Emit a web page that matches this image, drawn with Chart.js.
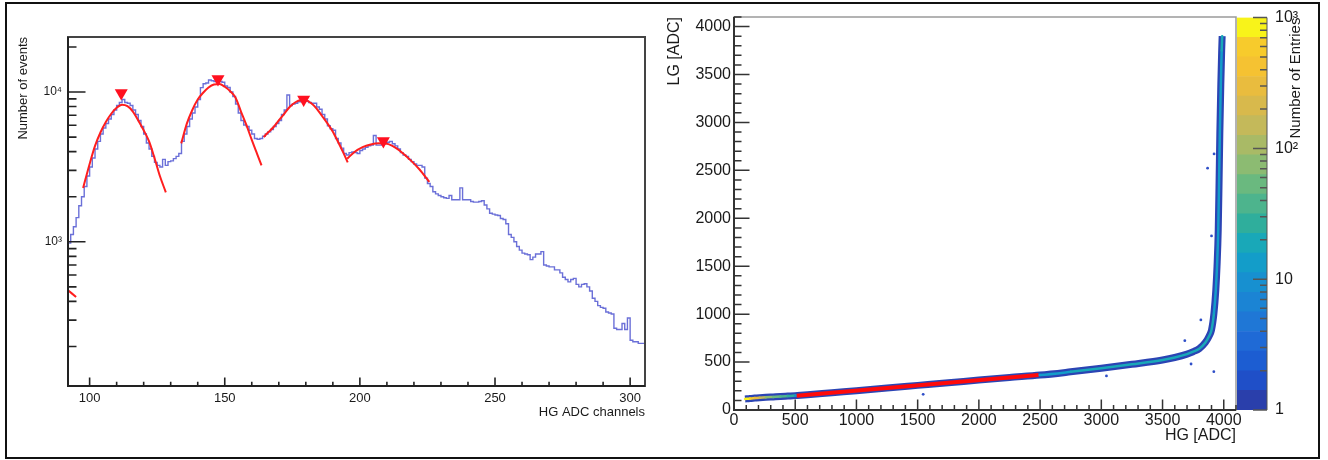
<!DOCTYPE html>
<html>
<head>
<meta charset="utf-8">
<script src="https://cdn.jsdelivr.net/npm/chart.js@4.4.1/dist/chart.umd.min.js"></script>
<style>
  body { margin: 0; background: #fff; }
  #wrap { position: relative; width: 1328px; height: 460px; background: #fff; overflow: hidden; }
  canvas { position: absolute; top: 0; }
  #frame { position: absolute; left: 5px; top: 2px; width: 1315px; height: 457px; border: 2px solid #111; box-sizing: border-box; }
</style>
</head>
<body>
<div id="wrap">
  <canvas id="histChart" width="660" height="460" style="left:0"></canvas>
  <canvas id="lgHgChart" width="600" height="460" style="left:650px"></canvas>
  <canvas id="paletteChart" width="91" height="460" style="left:1237px"></canvas>
  <div id="frame"></div>
</div>
<script>
// ---- left panel: HG spectrum, one bin per ADC channel starting at 92
var histStart = 92;
var histCounts = [
  980, 1120, 1260, 1450, 1740, 2000, 2340, 2750, 3160, 3630,      // 92-101
  4170, 4680, 5250, 5750, 6170, 6610, 7080, 7590, 8130, 8510,     // 102-111
  8910, 8510, 8410, 8130, 7590, 7080, 6460, 5890, 5250, 4570,     // 112-121
  4170, 3720, 3390, 3240, 3160, 3550, 3240, 3430, 3470, 3590,     // 122-131
  3720, 3890, 4680, 5250, 5890, 6610, 7240, 7940, 8910, 10700,    // 132-141
  11350, 11480, 12020, 11890, 11750, 11610, 11750, 11610, 10960, 10720, // 142-151
  10000, 9330, 8320, 7240, 6460, 6030, 5890, 5560, 5250, 4900,    // 152-161
  4840, 4900, 5070, 5250, 5430, 5620, 5890, 6170, 6460, 7080,     // 162-171
  7590, 9550, 8130, 8320, 8410, 8610, 8710, 8810, 8710, 8510,     // 172-181
  8410, 8410, 7940, 7670, 7080, 6610, 5960, 5690, 5560, 4900,     // 182-191
  4570, 4220, 3890, 3800, 3940, 3980, 3940, 3890, 4070, 4170,     // 192-201
  4270, 4370, 4420, 5130, 4420, 4420, 4470, 4570, 4620, 4680,     // 202-211
  4520, 4370, 4170, 3940, 3800, 3720, 3550, 3430, 3310, 3240,     // 212-221
  3240, 3160, 2660, 2450, 2340, 2160, 2090, 2040, 2000, 1970,     // 222-231
  1950, 2040, 1910, 1910, 1910, 2290, 1910, 1910, 1910, 1860,     // 232-241
  1840, 1840, 1860, 1880, 1760, 1660, 1550, 1530, 1510, 1500,     // 242-251
  1430, 1410, 1320, 1120, 1070, 1000, 930, 880, 840, 830,         // 252-261
  820, 760, 790, 830, 830, 860, 700, 690, 680, 680,               // 262-271
  650, 650, 620, 580, 560, 540, 560, 570, 520, 500,               // 272-281
  520, 525, 500, 470, 420, 400, 375, 365, 360, 340,               // 282-291
  335, 330, 265, 260, 260, 285, 260, 310, 220, 215,               // 292-301
  215, 210, 210, 210                                              // 302-305
];

// gaussian fits around each photo-electron peak
var fitEdgeHG = [92, 95];
var fitEdgeN = [475, 428];
var fitPeak1HG = [97.6, 100, 102, 104, 106, 108, 110, 112, 114, 116, 118, 120, 122, 124, 126, 128.2];
var fitPeak1N = [2290, 3310, 4370, 5370, 6310, 7160, 7850, 8220, 8040, 7410, 6460, 5560, 4680, 3630, 2750, 2140];
var fitPeak2HG = [133.9, 136, 138, 140, 142, 144, 146, 148, 150, 152, 154, 156, 158, 160, 162, 163.6];
var fitPeak2N = [4540, 6170, 7590, 8910, 9890, 10720, 11220, 11300, 10840, 10120, 9160, 7410, 6030, 4790, 3850, 3240];
var fitPeak3HG = [164.4, 166, 168, 170, 172, 174, 176, 178, 180, 182, 184, 186, 188, 190, 192, 194, 195.5];
var fitPeak3N = [5010, 5370, 5820, 6460, 7160, 7940, 8510, 8810, 8810, 8410, 7760, 6920, 6170, 5430, 4620, 3890, 3390];
var fitPeak4HG = [195.3, 198, 201, 204, 207, 210, 213, 216, 219, 222, 225.7];
var fitPeak4N = [3590, 3980, 4290, 4470, 4550, 4520, 4270, 3890, 3470, 3050, 2510];

// peak markers
var peakHG = [111.7, 147.5, 179.2, 208.7];
var peakN = [9850, 12230, 8900, 4710];

// ---- right panel: LG vs HG correlation
var bandHG = [90, 130, 170, 210, 260, 320, 380, 440, 500, 600, 800, 1000, 1250, 1500, 1750, 2000, 2250, 2500,
  2750, 3000, 3250, 3500, 3600, 3700, 3750, 3800, 3850, 3880, 3900, 3920, 3935, 3945, 3955, 3962, 3968, 3976, 3983, 3987];
var bandLG = [115, 120, 124, 128, 132, 136, 140, 145, 150, 159, 181, 202, 230, 257, 284, 312, 339, 364,
  398, 435, 477, 522, 548, 583, 608, 640, 705, 770, 835, 1010, 1250, 1500, 1880, 2400, 2890, 3400, 3750, 3900];
var bandEntries = [900, 600, 300, 150, 80, 60, 40, 25, 10, 5, 4, 4, 4, 4, 5, 5, 6, 12,
  18, 18, 18, 18, 18, 20, 20, 20, 20, 20, 18, 14, 12, 12, 12, 12, 12, 14, 20, 40];
var fitHG = [512, 2487];
var fitLG = [149, 365];
var strayHG = [1545, 3042, 3682, 3733, 3813, 3868, 3900, 3919, 3921];
var strayLG = [164, 355, 723, 480, 940, 2523, 1816, 400, 2672];

// colour palette of the z axis, lowest contour first
var paletteColors = ['#2a3fab', '#1f4fc8', '#1c5dd2', '#1f6ad6', '#1f77d6', '#1b84d4', '#1790d0', '#139dc9',
  '#19a8b8', '#2fae9c', '#4db48d', '#6ab97f', '#8cbb72', '#a9ba66', '#c4b95a', '#d8b94c', '#e9bc3e',
  '#f5c232', '#f7cb2c', '#f8f31a'];
var zMin = 1, zMax = 1000;

Chart.defaults.font.family = "'Liberation Sans', Arial, Helvetica, sans-serif";
Chart.defaults.color = '#1a1a1a';

function pts(xs, ys) {
  return xs.map(function (x, i) { return { x: x, y: ys[i] }; });
}

function setTicks(values, isMajor) {
  return function (scale) {
    scale.ticks = values.map(function (v) { return { value: v, major: isMajor(v) }; });
  };
}

function logTicks(lo, hi) {
  var out = [];
  for (var d = 1; d <= hi; d *= 10) {
    for (var k = 1; k < 10; k++) {
      var v = k * d;
      if (v >= lo && v <= hi) out.push(v);
    }
  }
  return out;
}

function stepTicks(lo, hi, step) {
  var out = [];
  for (var v = lo; v <= hi; v += step) out.push(v);
  return out;
}

function isPow10(v) {
  var l = Math.log10(v);
  return Math.abs(l - Math.round(l)) < 1e-9;
}

function colorFor(n) {
  var i = Math.floor(Math.log10(n) / Math.log10(zMax / zMin) * paletteColors.length);
  return paletteColors[Math.max(0, Math.min(paletteColors.length - 1, i))];
}

// ROOT-like frame: axis lines, ticks pointing into the pad
var rootAxes = {
  id: 'rootAxes',
  afterDatasetsDraw: function (chart, args, o) {
    var ctx = chart.ctx, a = chart.chartArea;
    ctx.save();
    if (o.frameColor) {
      ctx.strokeStyle = o.frameColor;
      ctx.lineWidth = o.frameWidth;
      ctx.strokeRect(a.left, a.top, a.right - a.left, a.bottom - a.top);
    }
    ctx.strokeStyle = o.axisColor;
    ctx.lineWidth = o.axisWidth;
    ctx.beginPath();
    if (o.side === 'right') {
      ctx.moveTo(a.right, a.top); ctx.lineTo(a.right, a.bottom);
    } else {
      ctx.moveTo(a.left, a.top); ctx.lineTo(a.left, a.bottom); ctx.lineTo(a.right, a.bottom);
    }
    ctx.stroke();
    ctx.lineWidth = o.tickWidth;
    ['x', 'y'].forEach(function (id) {
      var len = o[id];
      var s = chart.scales[id];
      if (!len || !s) return;
      ctx.beginPath();
      s.ticks.forEach(function (t) {
        var p = s.getPixelForValue(t.value);
        var l = t.major ? len[0] : len[1];
        if (id === 'x') { ctx.moveTo(p, a.bottom); ctx.lineTo(p, a.bottom - l); }
        else if (o.side === 'right') { ctx.moveTo(a.right, p); ctx.lineTo(a.right - l, p); }
        else { ctx.moveTo(a.left, p); ctx.lineTo(a.left + l, p); }
      });
      ctx.stroke();
    });
    ctx.restore();
  }
};

function fitSet(xs, ys) {
  return {
    data: pts(xs, ys), borderColor: '#ff1e1e', borderWidth: 2, pointRadius: 0,
    cubicInterpolationMode: 'monotone', order: 1
  };
}

var histData = histCounts.map(function (n, i) { return { x: histStart + i, y: n }; });
histData.push({ x: histStart + histCounts.length, y: histCounts[histCounts.length - 1] });

new Chart(document.getElementById('histChart'), {
  type: 'line',
  data: {
    datasets: [
      {
        data: pts(peakHG, peakN), showLine: false, pointStyle: 'triangle', rotation: 180,
        pointRadius: 7.5, pointBackgroundColor: '#ff1020', pointBorderWidth: 0, order: 0
      },
      fitSet(fitEdgeHG, fitEdgeN),
      fitSet(fitPeak1HG, fitPeak1N),
      fitSet(fitPeak2HG, fitPeak2N),
      fitSet(fitPeak3HG, fitPeak3N),
      fitSet(fitPeak4HG, fitPeak4N),
      { data: histData, stepped: true, borderColor: '#6b70d8', borderWidth: 1.4, pointRadius: 0, order: 2 }
    ]
  },
  options: {
    responsive: false, animation: false, events: [],
    layout: { padding: { top: 37, right: 15, left: 0, bottom: 0 } },
    plugins: {
      legend: { display: false }, tooltip: { enabled: false },
      rootAxes: {
        frameColor: '#444', frameWidth: 2, axisColor: '#222', axisWidth: 2, tickWidth: 1.6,
        x: [8.5, 4.2], y: [17.5, 8.5]
      }
    },
    scales: {
      x: {
        type: 'linear', min: 92, max: 305.5,
        afterBuildTicks: setTicks(stepTicks(100, 300, 10), function (v) { return v % 50 === 0; }),
        afterFit: function (s) { s.height = 74; },
        grid: { display: false, drawTicks: false }, border: { display: false },
        ticks: {
          autoSkip: false, maxRotation: 0, padding: 5, font: { size: 13 },
          callback: function (v) { return v % 50 === 0 ? String(v) : ''; }
        },
        title: { display: true, text: 'HG ADC channels', align: 'end', font: { size: 13 }, padding: { top: 0, bottom: 40 } }
      },
      y: {
        type: 'logarithmic', min: 109, max: 23300,
        afterBuildTicks: setTicks(logTicks(110, 23300), isPow10),
        afterFit: function (s) { s.width = 68; },
        grid: { display: false, drawTicks: false }, border: { display: false },
        ticks: {
          autoSkip: false, padding: 6, font: { size: 12 },
          callback: function (v) { return v === 1000 ? '10³' : v === 10000 ? '10⁴' : ''; }
        },
        title: { display: true, text: 'Number of events', align: 'end', font: { size: 13 }, padding: { top: 16, bottom: 0 } }
      }
    }
  },
  plugins: [rootAxes]
});

new Chart(document.getElementById('lgHgChart'), {
  type: 'line',
  data: {
    datasets: [
      { data: pts(fitHG, fitLG), borderColor: '#ff0a0a', borderWidth: 4, pointRadius: 0, order: 0 },
      {
        data: pts(bandHG, bandLG), borderWidth: 2.5, pointRadius: 0, cubicInterpolationMode: 'monotone',
        segment: { borderColor: function (c) { return colorFor(bandEntries[c.p0DataIndex]); } },
        borderCapStyle: 'round', order: 1
      },
      {
        data: pts(bandHG, bandLG), borderColor: '#2b44b4', borderWidth: 7, pointRadius: 0,
        cubicInterpolationMode: 'monotone', borderCapStyle: 'butt', borderJoinStyle: 'round', order: 2
      },
      {
        data: pts(strayHG, strayLG), showLine: false, pointRadius: 1.4, pointBorderWidth: 0,
        pointBackgroundColor: '#2f4fc8', order: 3
      }
    ]
  },
  options: {
    responsive: false, animation: false, events: [],
    layout: { padding: { top: 17, right: 14, left: 0, bottom: 0 } },
    plugins: {
      legend: { display: false }, tooltip: { enabled: false },
      rootAxes: {
        frameColor: '#9a9a9a', frameWidth: 1.5, axisColor: '#333', axisWidth: 2, tickWidth: 1.5,
        x: [10.5, 5], y: [15.5, 7.5]
      }
    },
    scales: {
      x: {
        type: 'linear', min: 0, max: 4100,
        afterBuildTicks: setTicks(stepTicks(0, 4100, 100), function (v) { return v % 500 === 0; }),
        afterFit: function (s) { s.height = 50; },
        grid: { display: false, drawTicks: false }, border: { display: false },
        ticks: {
          autoSkip: false, maxRotation: 0, padding: 1, font: { size: 16 },
          callback: function (v) { return v % 500 === 0 ? String(v) : ''; }
        },
        title: { display: true, text: 'HG [ADC]', align: 'end', font: { size: 16 }, padding: { top: 0, bottom: 15 } }
      },
      y: {
        type: 'linear', min: 0, max: 4100,
        afterBuildTicks: setTicks(stepTicks(0, 4100, 100), function (v) { return v % 500 === 0; }),
        afterFit: function (s) { s.width = 84; },
        grid: { display: false, drawTicks: false }, border: { display: false },
        ticks: {
          autoSkip: false, padding: 3, font: { size: 16 },
          callback: function (v) { return v % 500 === 0 ? String(v) : ''; }
        },
        title: { display: true, text: 'LG [ADC]', align: 'end', font: { size: 16 }, padding: { top: 15, bottom: 0 } }
      }
    }
  },
  plugins: [rootAxes]
});

// z-axis colour scale
var paletteTitle = {
  id: 'paletteTitle',
  afterDraw: function (chart) {
    var ctx = chart.ctx;
    ctx.save();
    ctx.translate(chart.chartArea.right + 29, chart.chartArea.top);
    ctx.rotate(-Math.PI / 2);
    ctx.textAlign = 'right';
    ctx.textBaseline = 'middle';
    ctx.font = "15px 'Liberation Sans', Arial, Helvetica, sans-serif";
    ctx.fillStyle = '#1a1a1a';
    ctx.fillText('Number of Entries', 0, 0);
    ctx.restore();
  }
};

var paletteStep = Math.log10(zMax / zMin) / paletteColors.length;
new Chart(document.getElementById('paletteChart'), {
  type: 'bar',
  data: {
    labels: ['z'],
    datasets: paletteColors.map(function (c, i) {
      return {
        data: [[zMin * Math.pow(10, i * paletteStep), zMin * Math.pow(10, (i + 1) * paletteStep)]],
        backgroundColor: c, borderWidth: 0, barPercentage: 1, categoryPercentage: 1, grouped: false
      };
    })
  },
  options: {
    responsive: false, animation: false, events: [],
    layout: { padding: { top: 17, right: 0, left: 0, bottom: 50 } },
    plugins: {
      legend: { display: false }, tooltip: { enabled: false },
      rootAxes: { side: 'right', axisColor: '#555', axisWidth: 1, tickWidth: 1.5, y: [14, 7] }
    },
    scales: {
      x: { display: false },
      y: {
        type: 'logarithmic', position: 'right', min: zMin, max: zMax,
        afterBuildTicks: setTicks(logTicks(zMin, zMax), isPow10),
        afterFit: function (s) { s.width = 61; },
        grid: { display: false, drawTicks: false }, border: { display: false },
        ticks: {
          autoSkip: false, padding: 8, font: { size: 16 },
          callback: function (v) {
            return v === 1 ? '1' : v === 10 ? '10' : v === 100 ? '10²' : v === 1000 ? '10³' : '';
          }
        }
      }
    }
  },
  plugins: [rootAxes, paletteTitle]
});
</script>
</body>
</html>
